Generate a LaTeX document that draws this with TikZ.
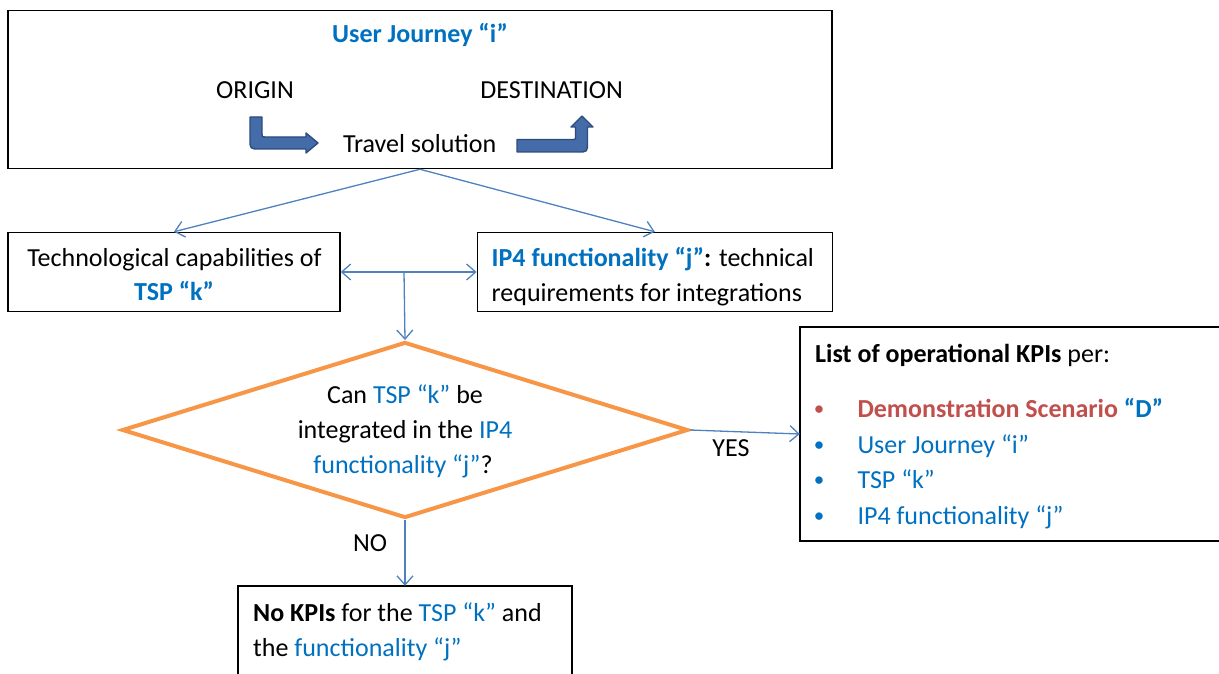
\documentclass[tikz,border=0pt]{standalone}
\usepackage{fontspec}
\setmainfont{Carlito}
\usetikzlibrary{arrows.meta,shapes.geometric}
\definecolor{tblue}{RGB}{0,112,192}
\definecolor{lblue}{RGB}{79,129,189}
\definecolor{orng}{RGB}{247,150,70}
\definecolor{tred}{RGB}{192,80,77}
\definecolor{afill}{RGB}{68,108,168}
\definecolor{aedge}{RGB}{45,75,125}
\newcommand\fsz{\fontsize{26}{35}\selectfont}
\newcommand\bsz{\fontsize{21}{35}\selectfont}
\begin{document}
\begin{tikzpicture}[x=1pt,y=-1pt,
  txt/.style={inner sep=0pt, font=\fsz},
  btxt/.style={inner sep=0pt, font=\fsz\bfseries},
  bullettxt/.style={inner sep=0pt, font=\bsz},
  boxnode/.style={draw=black, line width=1.5pt, inner sep=0pt},
  openbox/.style={inner sep=0pt},
  edge/.style={draw=black, line width=1.5pt},
  conn/.style={draw=lblue, line width=1.3pt, -{Straight Barb[length=9pt,width=16pt]}},
  dconn/.style={draw=lblue, line width=1.3pt, {Straight Barb[length=9pt,width=16pt]}-{Straight Barb[length=9pt,width=16pt]}},
  bendarrow/.style={fill=afill, draw=aedge, line width=1.4pt, line join=round},
  decision/.style={diamond, draw=orng, line width=4pt, inner sep=0pt}]
\useasboundingbox (0,0) rectangle (1219,674);

% top box
\node[boxnode, minimum width=824pt, minimum height=158pt] (journey) at (420,89.5) {};
\node[btxt, anchor=base, text=tblue] (jtitle) at (420,43) {User Journey “i”};
\node[txt, anchor=base] (origin) at (255,99) {ORIGIN};
\node[txt, anchor=base] (dest) at (551.7,99) {DESTINATION};
\node[txt, anchor=base] (travel) at (419.7,153) {Travel solution};

% bent arrows
\draw[bendarrow] (250,117) -- (262,117) -- (262,134) .. controls (262,137) .. (265,137)
  -- (306,137) -- (306,133) -- (318,143) -- (306,153) -- (306,149) -- (260,149)
  .. controls (250,149) .. (250,139) -- cycle;
\draw[bendarrow] (517,139.5) -- (572,139.5) .. controls (575.5,139.5) .. (575.5,136)
  -- (575.5,127) -- (571,127) -- (582,116) -- (593,127) -- (587.5,127) -- (587.5,142)
  .. controls (587.5,152) .. (577.5,152) -- (517,152) -- cycle;

% second row
\node[boxnode, minimum width=332pt, minimum height=79pt] (tech) at (174,272) {};
\node[txt, anchor=base] (tech1) at (174.5,266) {Technological capabilities of};
\node[btxt, anchor=base, text=tblue] (tech2) at (174,300.5) {TSP “k”};

\node[boxnode, minimum width=355pt, minimum height=79pt] (ip4) at (654.8,272) {};
\node[txt, anchor=base west] (ip41) at (491.5,266) {\textcolor{tblue}{\bfseries IP4 functionality “j”}\textbf{:} technical};
\node[txt, anchor=base west] (ip42) at (491.5,301) {requirements for integrations};

\draw[conn] (journey.south) -- (tech.north);
\draw[conn] (journey.south) -- (ip4.north);
\draw[dconn] (tech.east) -- (ip4.west);
\coordinate (mid) at (404,272);

% decision
\node[decision, minimum width=566pt, minimum height=176pt] (dia) at (405,430) {};
\node[txt, anchor=base] (q1) at (405,403.5) {Can \textcolor{tblue}{TSP “k”} be};
\node[txt, anchor=base] (q2) at (405,438.5) {integrated in the \textcolor{tblue}{IP4}};
\node[txt, anchor=base] (q3) at (403,473.5) {\textcolor{tblue}{functionality “j”}?};
\draw[conn] (mid) -- (dia.north);

% KPI box (cut at the right edge)
\node[openbox, minimum width=419pt, minimum height=214pt] (kpi) at (1009.5,434) {};
\draw[edge] (kpi.north east) -- (kpi.north west) -- (kpi.south west) -- (kpi.south east);
\node[txt, anchor=base west] (kpit) at (815,362) {\textbf{List of operational KPIs} per:};
\node[bullettxt, anchor=base, text=tred] (b1) at (819,415) {•};
\node[bullettxt, anchor=base, text=tblue] (b2) at (819,451) {•};
\node[bullettxt, anchor=base, text=tblue] (b3) at (819,486.5) {•};
\node[bullettxt, anchor=base, text=tblue] (b4) at (819,522) {•};
\node[txt, anchor=base west] (i1) at (857.3,417) {\textcolor{tred}{\bfseries Demonstration Scenario} \textcolor{tblue}{\bfseries “D”}};
\node[txt, anchor=base west, text=tblue] (i2) at (857.3,453) {User Journey “i”};
\node[txt, anchor=base west, text=tblue] (i3) at (857.3,488.5) {TSP “k”};
\node[txt, anchor=base west, text=tblue] (i4) at (857.3,524) {IP4 functionality “j”};
\draw[conn] (dia.east) -- (kpi.west);
\node[txt, anchor=base] (yes) at (731,456) {YES};

% NO branch (box cut at the bottom edge)
\node[openbox, minimum width=334pt, minimum height=88pt] (nokpi) at (405,630) {};
\draw[edge] (nokpi.south west) |- (nokpi.north) -| (nokpi.south east);
\node[txt, anchor=base west] (nk1) at (253,621) {\textbf{No KPIs} for the \textcolor{tblue}{TSP “k”} and};
\node[txt, anchor=base west] (nk2) at (253,656) {the \textcolor{tblue}{functionality “j”}};
\draw[conn] (dia.south) -- (nokpi.north);
\node[txt, anchor=base] (no) at (370,551) {NO};
\end{tikzpicture}
\end{document}
